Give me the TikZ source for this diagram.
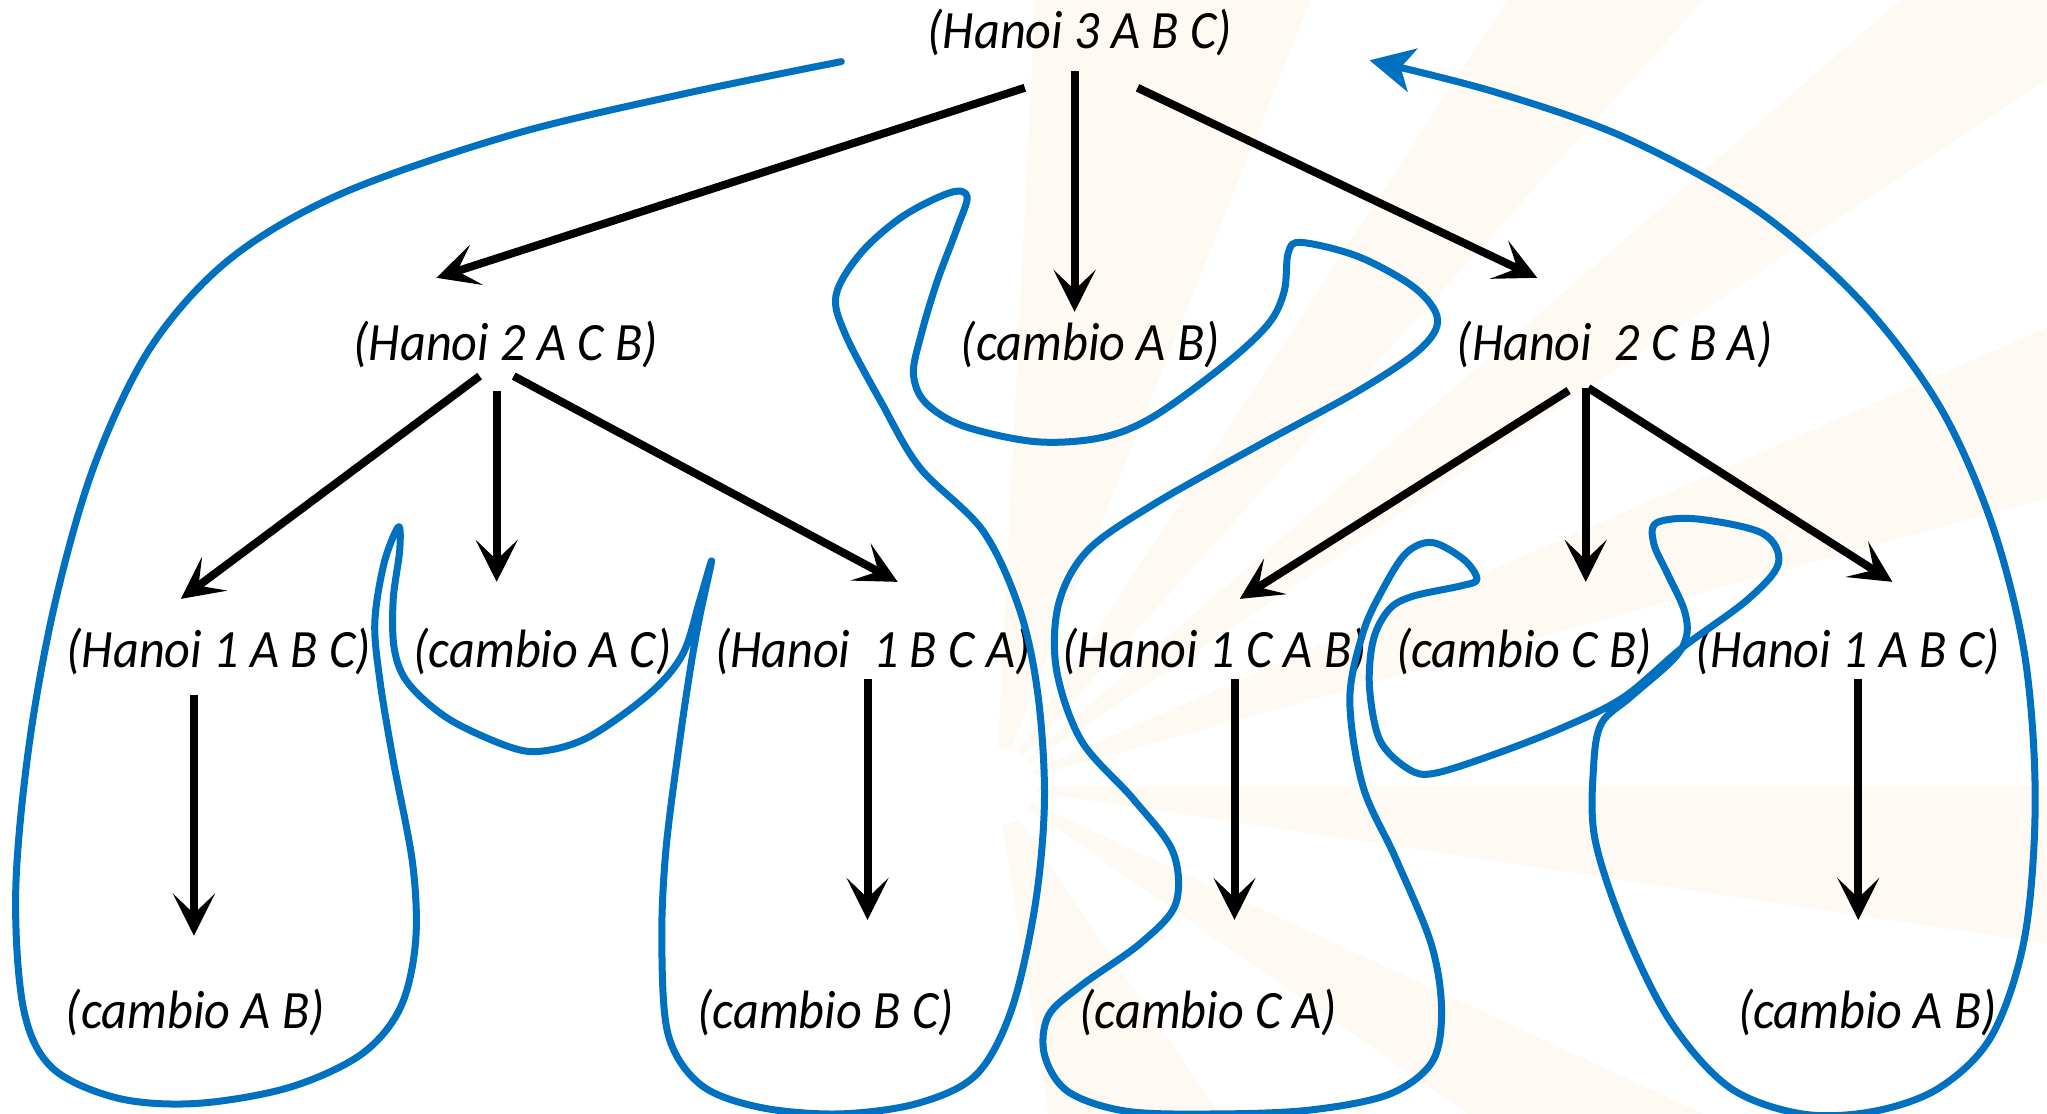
\documentclass[tikz,border=0pt]{standalone}
\usepackage{fontspec}
\newfontfamily\labfont{Carlito}[FakeStretch=0.93]
\usetikzlibrary{arrows.meta}
\definecolor{curveblue}{RGB}{0,112,192}
\definecolor{raycol}{RGB}{252,234,204}
\begin{document}
\begin{tikzpicture}[x=1.3105pt,y=-1.3105pt,
  lab/.style={font=\labfont\itshape\fontsize{54}{60}\selectfont, anchor=base, inner sep=0pt},
  arr/.style={line width=8pt, -{Stealth[length=42pt,width=42pt,inset=20pt]}},
  tour/.style={curveblue, line width=7pt, line cap=round, line join=round, -{Stealth[length=44pt,width=44pt,inset=12pt]}},
  ray/.style={fill=raycol, fill opacity=0.25, draw=none}]
\useasboundingbox[fill=white] (0,0) rectangle (1562,850);
% faint background sun rays
\fill[ray] (760,600) -- (790,0) -- (1000,0) -- cycle;
\fill[ray] (760,600) -- (1150,0) -- (1300,0) -- cycle;
\fill[ray] (760,600) -- (1450,0) -- (1562,0) -- (1562,60) -- cycle;
\fill[ray] (760,600) -- (1562,250) -- (1562,380) -- cycle;
\fill[ray] (760,600) -- (1562,600) -- (1562,720) -- cycle;
\fill[ray] (760,600) -- (1300,850) -- (1120,850) -- cycle;
\fill[ray] (760,600) -- (930,850) -- (800,850) -- cycle;
\fill[white] (760,600) circle (30);
% labels
\node[lab] (r) at (824,37) {(Hanoi 3 A B C)};
\node[lab] (a) at (386,275) {(Hanoi 2 A C B)};
\node[lab] (b) at (832,275) {(cambio A B)};
\node[lab] (c) at (1232,275) {(Hanoi\ \ 2 C B A)};
\node[lab] (d1) at (167,509) {(Hanoi 1 A B C)};
\node[lab] (d2) at (414,509) {(cambio A C)};
\node[lab] (d3) at (666,509) {(Hanoi\ \ 1 B C A)};
\node[lab] (d4) at (927,509) {(Hanoi 1 C A B)};
\node[lab] (d5) at (1163,509) {(cambio C B)};
\node[lab] (d6) at (1410,509) {(Hanoi 1 A B C)};
\node[lab] (e1) at (149,785) {(cambio A B)};
\node[lab] (e2) at (630,785) {(cambio B C)};
\node[lab] (e3) at (922,785) {(cambio C A)};
\node[lab] (e4) at (1425,785) {(cambio A B)};
% connector end points
\coordinate (r-l) at (782,67);
\coordinate (r-m) at (820,54);
\coordinate (r-r) at (868,67);
\coordinate (a-t) at (333,212);
\coordinate (b-t) at (820,238);
\coordinate (c-t) at (1173,212);
\coordinate (a-l) at (366,287);
\coordinate (a-m) at (379,298);
\coordinate (a-r) at (392,287);
\coordinate (d1-t) at (138,457);
\coordinate (d2-t) at (379,444);
\coordinate (d3-t) at (685,444);
\coordinate (c-l) at (1197,298);
\coordinate (c-m) at (1210,296);
\coordinate (c-r) at (1212,296);
\coordinate (d4-t) at (946,457);
\coordinate (d5-t) at (1210,444);
\coordinate (d6-t) at (1444,444);
\coordinate (d1-b) at (148,530);
\coordinate (e1-t) at (148,714);
\coordinate (d3-b) at (662,518);
\coordinate (e2-t) at (662,702);
\coordinate (d4-b) at (942,518);
\coordinate (e3-t) at (942,702);
\coordinate (d6-b) at (1418,518);
\coordinate (e4-t) at (1418,702);
% tree arrows
\draw[arr] (r-l) -- (a-t);
\draw[arr] (r-m) -- (b-t);
\draw[arr] (r-r) -- (c-t);
\draw[arr] (a-l) -- (d1-t);
\draw[arr] (a-m) -- (d2-t);
\draw[arr] (a-r) -- (d3-t);
\draw[arr] (c-l) -- (d4-t);
\draw[arr] (c-m) -- (d5-t);
\draw[arr] (c-r) -- (d6-t);
\draw[arr] (d1-b) -- (e1-t);
\draw[arr] (d3-b) -- (e2-t);
\draw[arr] (d4-b) -- (e3-t);
\draw[arr] (d6-b) -- (e4-t);
% traversal curve
\draw[tour] plot[smooth, tension=0.55] coordinates {
(642,47) (520,72) (390,103) (260,148) (175,198) (115,265) (72,355) (42,460)
(22,570) (12,680) (18,770) (40,815) (90,838) (150,842) (220,830) (275,805)
(305,770) (317,720) (315,660) (300,580) (290,520) (286,475) (293,430) (304,402)
(305,420) (300,458) (301,496) (312,522) (343,549) (389,570) (415,573) (450,562)
(496,529) (521,499) (534,458) (543,428) (534,470) (527,509) (518,570) (508,650)
(505,720) (510,790) (535,828) (580,845) (640,850) (700,842) (745,820) (772,770)
(790,690) (797,610) (792,530) (778,465) (750,405) (702,357) (673,308) (645,255)
(638,225) (657,193) (689,165) (725,147) (738,150) (730,175) (715,215) (703,255)
(697,285) (706,307) (735,325) (790,337) (840,334) (880,318) (935,278) (968,247)
(980,222) (983,193) (993,185) (1037,196) (1080,220) (1097,244) (1083,267) (1037,298)
(960,340) (880,385) (830,420) (808,460) (806,510) (825,565) (865,610) (895,650)
(897,690) (870,720) (825,752) (800,775) (797,805) (815,833) (860,848) (930,850)
(1000,847) (1060,835) (1093,810) (1100,770) (1092,720) (1065,655) (1040,600) (1030,534)
(1040,483) (1055,450) (1073,422) (1093,414) (1117,427) (1127,442) (1115,447) (1078,455)
(1060,465) (1048,488) (1045,524) (1053,565) (1075,587) (1095,590) (1142,575) (1193,555)
(1239,532) (1284,494) (1333,458) (1357,430) (1345,407) (1295,396) (1264,399) (1262,415)
(1272,437) (1285,465) (1287,485) (1277,503) (1244,532) (1222,552) (1216,585) (1217,640)
(1240,710) (1275,780) (1320,830) (1375,850) (1430,848) (1480,830) (1520,790) (1545,715)
(1553,610) (1545,500) (1520,400) (1480,310) (1420,230) (1340,160) (1240,105) (1140,70)
(1045,46)};
\end{tikzpicture}
\end{document}
